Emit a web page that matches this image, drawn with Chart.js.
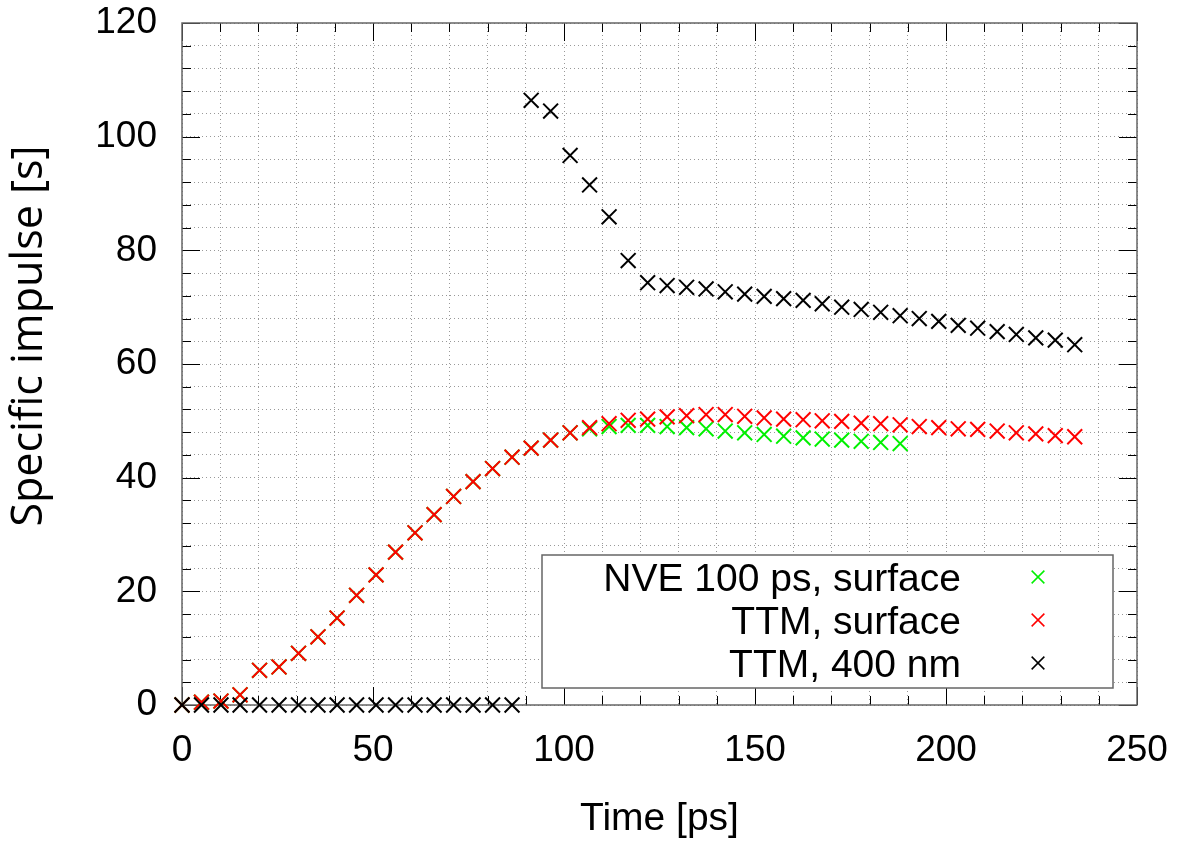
<!DOCTYPE html>
<html>
<head>
<meta charset="utf-8">
<script src="https://cdn.jsdelivr.net/npm/chart.js@4.4.1/dist/chart.umd.min.js"></script>
<style>
  html, body { margin: 0; padding: 0; background: #fff; }
</style>
</head>
<body>
<canvas id="chart" width="1181" height="841"></canvas>
<script>
// sample times [ps]
const times = [
  0, 5.1, 10.2, 15.2, 20.3, 25.4, 30.5, 35.6, 40.6, 45.7,
  50.8, 55.9, 61.0, 66.0, 71.1, 76.2, 81.3, 86.4, 91.4, 96.5,
  101.6, 106.7, 111.8, 116.8, 121.9, 127.0, 132.1, 137.2, 142.2, 147.3,
  152.4, 157.5, 162.6, 167.6, 172.7, 177.8, 182.9, 188.0, 193.0, 198.1,
  203.2, 208.3, 213.4, 218.4, 223.5, 228.6, 233.7
];
// specific impulse [s]
const nveSurface = [
  0, 0.5, 0.7, 1.8, 6.1, 6.7, 9.1, 12.0, 15.3, 19.3,
  22.9, 26.9, 30.3, 33.5, 36.7, 39.3, 41.6, 43.6, 45.2, 46.6,
  47.9, 48.6, 49.0, 49.2, 49.2, 49.0, 48.8, 48.6, 48.2, 47.9,
  47.6, 47.3, 47.0, 46.8, 46.6, 46.4, 46.2, 46.0
];
const ttmSurface = [
  0, 0.5, 0.7, 1.8, 6.1, 6.7, 9.1, 12.0, 15.3, 19.3,
  22.9, 26.9, 30.3, 33.5, 36.7, 39.3, 41.6, 43.6, 45.2, 46.6,
  47.9, 48.8, 49.5, 50.1, 50.3, 50.7, 50.9, 51.1, 51.1, 50.8,
  50.5, 50.3, 50.2, 50.0, 49.9, 49.6, 49.5, 49.3, 49.0, 48.8,
  48.6, 48.5, 48.2, 47.9, 47.7, 47.4, 47.2
];
const ttm400 = [
  0, 0, 0, 0, 0, 0, 0, 0, 0, 0,
  0, 0, 0, 0, 0, 0, 0, 0, 106.4, 104.5,
  96.7, 91.5, 85.9, 78.2, 74.3, 73.8, 73.5, 73.2, 72.7, 72.3,
  71.9, 71.5, 71.2, 70.6, 70.0, 69.6, 69.1, 68.5, 68.0, 67.5,
  66.8, 66.3, 65.7, 65.2, 64.6, 64.2, 63.4
];
const seriesLabels = ["NVE 100 ps, surface", "TTM, surface", "TTM, 400 nm"];
const seriesColors = ["#00f000", "#ff0000", "#000000"];
const xTickLabels = [0, 50, 100, 150, 200, 250];
const yTickLabels = [0, 20, 40, 60, 80, 100, 120];
const yTitle = "Specific impulse [s]";

const toPoints = (ys) => ys.map((y, i) => ({ x: times[i], y: y }));

function line(ctx, x1, y1, x2, y2) {
  ctx.beginPath();
  ctx.moveTo(x1, y1);
  ctx.lineTo(x2, y2);
  ctx.stroke();
}

// gnuplot style frame with inward ticks on all four sides
const framePlugin = {
  id: "frame",
  beforeDatasetsDraw(chart) {
    const { ctx, chartArea: a } = chart;
    const xs = chart.scales.x, ys = chart.scales.y;
    ctx.save();
    ctx.strokeStyle = "#000";
    ctx.lineWidth = 1;
    xs.ticks.forEach((t) => {
      const px = Math.round(xs.getPixelForValue(t.value)) + 0.5;
      const len = xTickLabels.includes(t.value) ? 18 : 9;
      line(ctx, px, a.bottom, px, a.bottom - len);
      line(ctx, px, a.top, px, a.top + len);
    });
    ys.ticks.forEach((t) => {
      const py = Math.round(ys.getPixelForValue(t.value)) + 0.5;
      const len = yTickLabels.includes(t.value) ? 18 : 9;
      line(ctx, a.left, py, a.left + len, py);
      line(ctx, a.right, py, a.right - len, py);
    });
    ctx.strokeStyle = "#666";
    ctx.lineWidth = 1.5;
    ctx.strokeRect(a.left, a.top, a.right - a.left, a.bottom - a.top);

    // y label sits a bit above the middle of the frame in the original
    ctx.fillStyle = "#000";
    ctx.font = '43px "Open Sans", sans-serif';
    ctx.textAlign = "center";
    ctx.textBaseline = "middle";
    ctx.translate(30, (a.top + a.bottom) / 2 - 28);
    ctx.rotate(-Math.PI / 2);
    ctx.fillText(yTitle, 0, 0);
    ctx.restore();
  }
};

// boxed key in lower right, text right aligned, marker after it
const keyPlugin = {
  id: "key",
  afterDatasetsDraw(chart) {
    const { ctx, chartArea: a } = chart;
    const w = 571, h = 133;
    const x0 = a.right - 24 - w, y0 = a.bottom - 17 - h;
    ctx.save();
    ctx.fillStyle = "#fff";
    ctx.fillRect(x0, y0, w, h);
    ctx.strokeStyle = "#666";
    ctx.lineWidth = 1.5;
    ctx.strokeRect(x0, y0, w, h);
    ctx.font = '39px "Liberation Sans", Arial, sans-serif';
    ctx.textAlign = "right";
    ctx.textBaseline = "alphabetic";
    seriesLabels.forEach((label, i) => {
      const cy = y0 + 22 + i * 43;
      ctx.fillStyle = "#000";
      ctx.fillText(label, x0 + w - 152, cy + 14);
      ctx.strokeStyle = seriesColors[i];
      ctx.lineWidth = 1.5;
      Chart.helpers.drawPoint(ctx, { pointStyle: "crossRot", radius: 9, rotation: 0, borderWidth: 1.5 }, x0 + w - 75, cy);
    });
    ctx.restore();
  }
};

function marks(label, data, color) {
  return {
    label: label,
    data: toPoints(data),
    showLine: false,
    pointStyle: "crossRot",
    pointRadius: 10.5,
    pointHoverRadius: 10.5,
    pointBorderWidth: 2,
    pointBorderColor: color,
    pointBackgroundColor: color,
    clip: false
  };
}

const tickFont = { family: '"Liberation Sans", Arial, sans-serif', size: 37 };

new Chart(document.getElementById("chart"), {
  type: "scatter",
  data: {
    // black first so it is drawn on top, as in the original
    datasets: [
      marks(seriesLabels[2], ttm400, seriesColors[2]),
      marks(seriesLabels[1], ttmSurface, seriesColors[1]),
      marks(seriesLabels[0], nveSurface, seriesColors[0])
    ]
  },
  options: {
    responsive: false,
    animation: false,
    events: [],
    layout: { padding: { top: 23, right: 44, left: 0, bottom: 0 } },
    plugins: { legend: { display: false }, tooltip: { enabled: false } },
    scales: {
      x: {
        type: "linear",
        min: 0,
        max: 250,
        afterFit: (s) => {
          s.height = 136;
          s.paddingLeft = 0;
          s.paddingRight = 0;
        },
        grid: { color: "#999", lineWidth: 1, drawTicks: false },
        border: { display: false, dash: [1, 3] },
        ticks: {
          stepSize: 10,
          autoSkip: false,
          maxRotation: 0,
          padding: 24,
          color: "#000",
          font: tickFont,
          callback: (v) => (xTickLabels.includes(v) ? String(v) : "")
        },
        title: {
          display: true,
          text: "Time [ps]",
          color: "#000",
          font: { family: '"Liberation Sans", Arial, sans-serif', size: 39 },
          padding: { top: 0, bottom: -2 }
        }
      },
      y: {
        type: "linear",
        min: 0,
        max: 120,
        afterFit: (s) => {
          s.width = 182;
          s.paddingTop = 0;
          s.paddingBottom = 0;
        },
        grid: { color: "#999", lineWidth: 1, drawTicks: false },
        border: { display: false, dash: [1, 3] },
        ticks: {
          stepSize: 4,
          autoSkip: false,
          padding: 25,
          color: "#000",
          font: tickFont,
          callback: (v) => (yTickLabels.includes(v) ? String(v) : "")
        }
      }
    }
  },
  plugins: [framePlugin, keyPlugin]
});
</script>
</body>
</html>
